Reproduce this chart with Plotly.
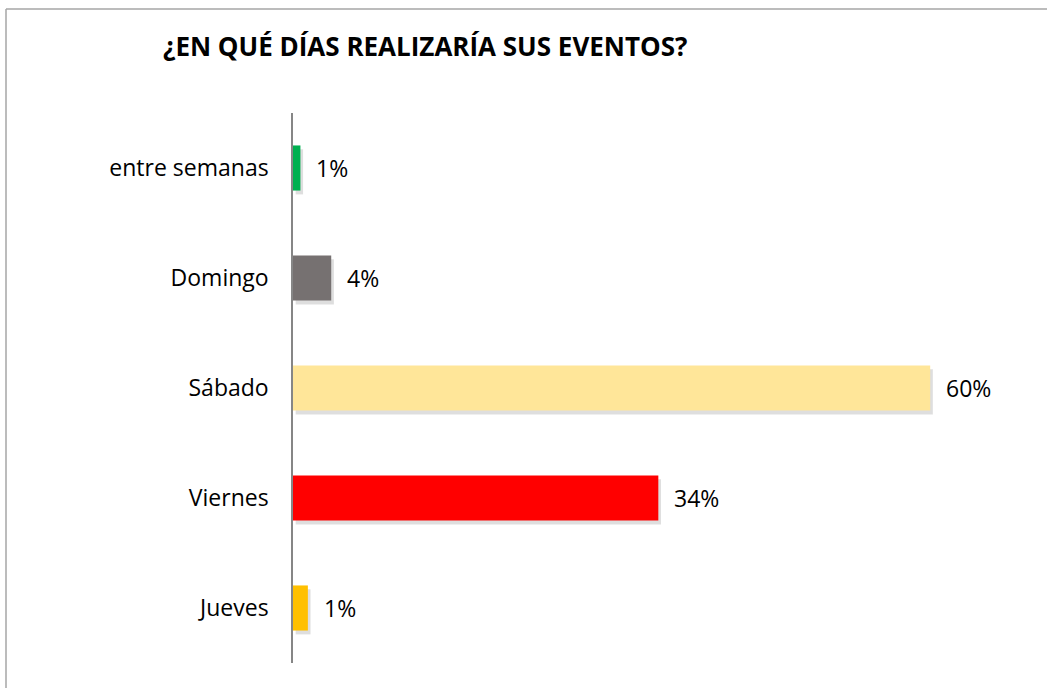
import plotly.graph_objects as go

categories = ["Jueves", "Viernes", "Sábado", "Domingo", "entre semanas"]
values = [1.4, 34.4, 60.0, 3.6, 0.7]
colors = ["#FFC000", "#FF0000", "#FFE699", "#767171", "#00B050"]
title_text = "¿EN QUÉ DÍAS REALIZARÍA SUS EVENTOS?"

FONT = "'Open Sans', sans-serif"
W, H = 1047, 688
ML, MR, MT, MB = 293, 47, 113, 25
plot_w = W - ML - MR
plot_h = H - MT - MB
xmax = plot_w / 10.62

fig = go.Figure()
# soft drop shadow
fig.add_trace(go.Bar(
    y=categories, x=values, base=0.25, orientation="h",
    width=0.41, offset=-0.205 - 0.035,
    marker=dict(color="rgba(0,0,0,0.13)", line=dict(width=0)),
    hoverinfo="skip", showlegend=False,
))
fig.add_trace(go.Bar(
    y=categories, x=values, orientation="h",
    width=0.41,
    marker=dict(color=colors, line=dict(width=0)),
    showlegend=False,
))

for c, v in zip(categories, values):
    fig.add_annotation(
        x=v, y=c, xref="x", yref="y", text=f"{v:.0f}%", showarrow=False,
        xanchor="left", yanchor="middle", xshift=14,
        font=dict(family=FONT, size=23, color="#000000"),
    )

fig.add_annotation(
    xref="paper", yref="paper", x=(161 - ML) / plot_w, y=(H - MB - 46) / plot_h,
    xanchor="left", yanchor="middle", showarrow=False,
    text=f"<b>{title_text}</b>",
    font=dict(family=FONT, size=26, color="#000000"),
)

# outer chart border (left and top edges visible)
bx = (6 - ML) / plot_w
by = (H - MB - 9) / plot_h
fig.add_shape(type="line", xref="paper", yref="paper", x0=bx, x1=bx, y0=by, y1=-1,
              line=dict(color="#A6A6A6", width=1.5))
fig.add_shape(type="line", xref="paper", yref="paper", x0=bx, x1=3, y0=by, y1=by,
              line=dict(color="#A6A6A6", width=1.5))

fig.update_layout(
    width=W, height=H,
    margin=dict(l=ML, r=MR, t=MT, b=MB),
    paper_bgcolor="white", plot_bgcolor="white",
    barmode="overlay",
    xaxis=dict(range=[0, xmax], showgrid=False, zeroline=False, showline=False,
               showticklabels=False, ticks=""),
    yaxis=dict(showgrid=False, zeroline=False, showline=True, linecolor="#868686",
               linewidth=1.5, ticks="", ticklabelstandoff=18,
               tickfont=dict(family=FONT, size=23, color="#000000"),
               categoryorder="array", categoryarray=categories),
    font=dict(family=FONT),
)

fig.write_html("out.html", config={"displayModeBar": False},
               post_script="document.body.style.margin='0';document.body.style.overflow='hidden';")
